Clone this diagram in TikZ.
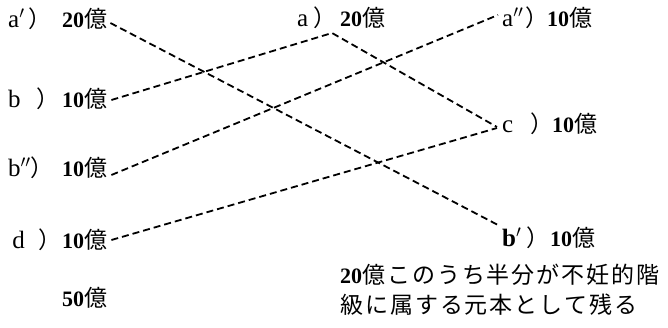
\documentclass[tikz,border=0pt]{standalone}
\usepackage{fontspec}
\setmainfont{Liberation Serif}
\newfontfamily\cjk{Noto Sans CJK JP}
\newfontfamily\cjknote[LetterSpace=8.5]{Noto Sans CJK JP}
\newcommand\Oku{{\fontsize{23}{26}\selectfont\cjk 億}}
\newcommand\Kakko{{\fontsize{23}{26}\selectfont\cjk ）}}
\newcommand\Lab[4]{\makebox[#1pt][l]{\fontsize{25}{28}\selectfont #3}\makebox[\dimexpr#2pt-#1pt\relax][l]{\Kakko}\textbf{#4}\Oku}
\tikzset{
  lab/.style={anchor=base west, inner sep=0pt, font=\fontsize{22}{26}\selectfont},
  conn/.style={dash pattern=on 7pt off 4pt, line width=1.8pt}
}
\begin{document}
\begin{tikzpicture}[x=1pt,y=-1pt]
\useasboundingbox (0,0) rectangle (668,328);
% left column
\node[lab] (aL) at (8,28) {\Lab{20}{54}{a$'$}{20}};
\node[lab] (bL) at (8,108) {\Lab{28}{54}{b}{10}};
\node[lab] (bppL) at (8,177) {\Lab{22}{54}{b$''$}{10}};
\node[lab] (dL) at (8,248) {\Lab{30}{54}{\,d}{10}};
\node[lab] (total) at (62,306) {\textbf{50}\Oku};
% middle
\node[lab] (aM) at (297,27) {\Lab{16}{43}{a}{20}};
\coordinate (apex) at (332,33);
% right column
\node[lab] (app) at (502,27) {\Lab{23}{45}{a$''$}{10}};
\node[lab] (cR) at (502,133) {\Lab{28}{50}{c}{10}};
\node[lab] (bpR) at (502,247) {\Lab{24}{48}{\textbf{b}$'$}{10}};
\node[lab] (note1) at (340,283) {\textbf{20}{\fontsize{23}{26}\selectfont\cjknote 億このうち半分が不妊的階}};
\node[lab] (note2) at (340,313) {{\fontsize{23}{26}\selectfont\cjknote 級に属する元本として残る}};
% connectors
\draw[conn] ([xshift=3pt,yshift=5pt]aL.base east) -- ([xshift=-4pt,yshift=22pt]bpR.base west);
\draw[conn] ([xshift=4pt,yshift=8pt]bL.base east) -- (apex) -- ([xshift=-5pt,yshift=6pt]cR.base west);
\draw[conn] ([xshift=4pt,yshift=2pt]bppL.base east) -- ([xshift=-4pt,yshift=12pt]app.base west);
\draw[conn] ([xshift=4pt,yshift=8pt]dL.base east) -- ([xshift=-5pt,yshift=5pt]cR.base west);
\end{tikzpicture}
\end{document}
